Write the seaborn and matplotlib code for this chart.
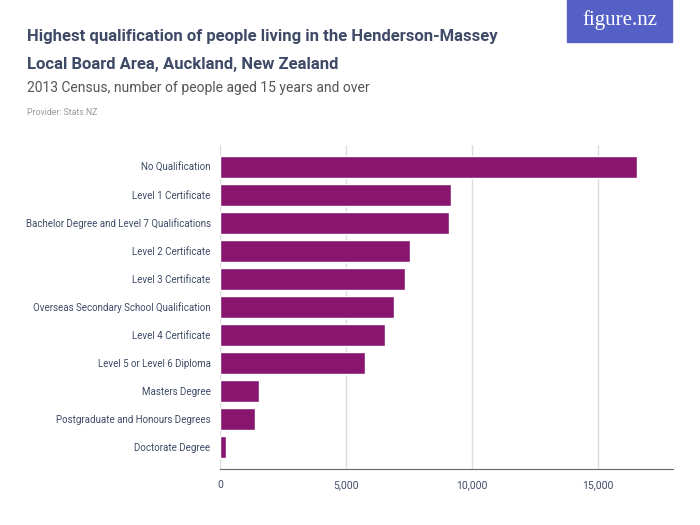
import pandas as pd
import seaborn as sns
import matplotlib.pyplot as plt
from matplotlib.ticker import FuncFormatter

categories = [
    'No Qualification',
    'Level 1 Certificate',
    'Bachelor Degree and Level 7 Qualifications',
    'Level 2 Certificate',
    'Level 3 Certificate',
    'Overseas Secondary School Qualification',
    'Level 4 Certificate',
    'Level 5 or Level 6 Diploma',
    'Masters Degree',
    'Postgraduate and Honours Degrees',
    'Doctorate Degree',
]
people = [16548, 9155, 9087, 7556, 7341, 6921, 6563, 5730, 1536, 1365, 214]
x_ticks = [0, 5000, 10000, 15000]

df = pd.DataFrame({'qualification': categories, 'people': people})

sns.set_style('white')
plt.rcParams['font.family'] = ['Roboto', 'DejaVu Sans']

text_col = '#3e4a66'
bar_col = '#88166f'

fig = plt.figure(figsize=(7, 5.25), dpi=100)
ax = fig.add_axes([0.3147, 0.106, 0.6472, 0.6178])

sns.barplot(data=df, y='qualification', x='people', color=bar_col,
            saturation=1, width=0.775, orient='h', ax=ax)

ax.set_xlim(0, 18000)
ax.set_ylim(10.8, -0.78)
ax.set_xticks(x_ticks)
ax.xaxis.set_major_formatter(FuncFormatter(lambda v, p: f'{int(v):,}'))
ax.grid(axis='x', color='#dddddd', linewidth=1)
ax.set_axisbelow(True)
for s in ['top', 'right', 'left']:
    ax.spines[s].set_visible(False)
ax.spines['bottom'].set_color('#666666')
ax.tick_params(axis='x', length=4, color='#666666', labelsize=7.5, labelcolor=text_col)
ax.tick_params(axis='y', length=0, labelsize=7, labelcolor=text_col, pad=7)
ax.set_xlabel('')
ax.set_ylabel('')

fig.text(0.039, 0.930, 'Highest qualification of people living in the Henderson-Massey',
         fontsize=12, color=text_col, weight='bold', va='center')
fig.text(0.039, 0.878, 'Local Board Area, Auckland, New Zealand',
         fontsize=12, color=text_col, weight='bold', va='center')
fig.text(0.039, 0.832, '2013 Census, number of people aged 15 years and over',
         fontsize=10, color='#555555', va='center')
fig.text(0.039, 0.785, 'Provider: Stats NZ', fontsize=6.3, color='#999999', va='center')

# logo box
fig.patches.append(plt.Rectangle((0.81, 0.92), 0.15, 0.08, transform=fig.transFigure,
                                 color='#5560c6', zorder=0))
fig.text(0.885, 0.962, 'figure.nz', fontsize=15, color='white', ha='center', va='center',
         family=['Liberation Serif', 'DejaVu Serif'])

fig.savefig('out.png', dpi=100)
